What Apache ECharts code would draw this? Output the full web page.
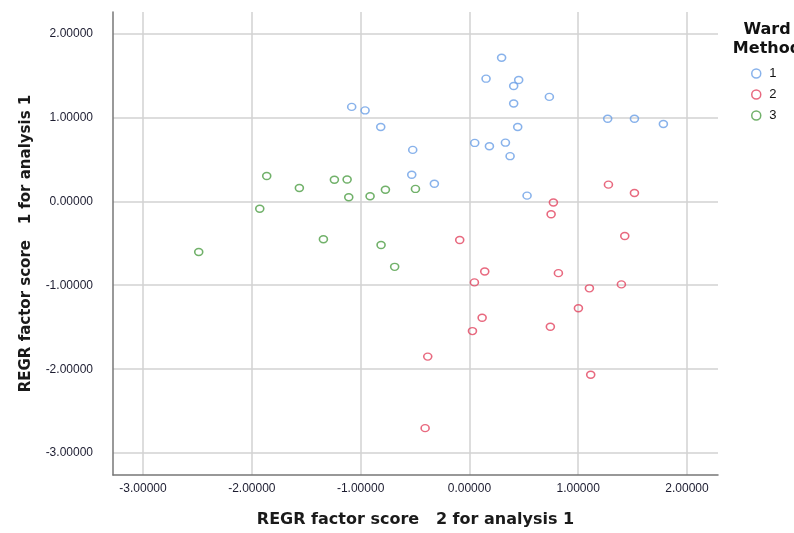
<!DOCTYPE html>
<html>
<head>
<meta charset="utf-8">
<script src="https://cdn.jsdelivr.net/npm/echarts@6/dist/echarts.min.js"></script>
<style>
html,body{margin:0;padding:0;background:#fff;}
#c{width:794px;height:533px;}
</style>
</head>
<body>
<div id="c"></div>
<script>
// Cluster membership (Ward Method) — [factor score 2, factor score 1]
var cluster1 = [
  [0.296, 1.709], [0.153, 1.460], [0.453, 1.444], [0.407, 1.373], [0.735, 1.243],
  [0.407, 1.164], [-1.082, 1.124], [-0.959, 1.082], [-0.815, 0.884], [0.444, 0.884],
  [1.271, 0.982], [1.517, 0.982], [1.783, 0.920], [0.049, 0.695], [0.184, 0.656],
  [0.331, 0.698], [0.374, 0.537], [-0.521, 0.612], [-0.530, 0.316], [-0.322, 0.209],
  [0.530, 0.067]
];
var cluster2 = [
  [1.278, 0.198], [1.517, 0.099], [0.772, -0.015], [0.751, -0.154], [1.428, -0.414],
  [-0.089, -0.462], [0.141, -0.836], [0.818, -0.856], [0.046, -0.966], [1.103, -1.037],
  [1.397, -0.990], [1.002, -1.274], [0.117, -1.388], [0.744, -1.495], [0.028, -1.546],
  [-0.383, -1.850], [1.115, -2.067], [-0.407, -2.702]
];
var cluster3 = [
  [-2.488, -0.604], [-1.927, -0.090], [-1.863, 0.300], [-1.563, 0.158], [-1.342, -0.453],
  [-1.241, 0.257], [-1.124, 0.260], [-1.109, 0.047], [-0.913, 0.059], [-0.812, -0.521],
  [-0.772, 0.138], [-0.687, -0.781], [-0.496, 0.147]
];
var clusterNames = ['1', '2', '3'];
var clusterColors = ['#6a9fe6', '#e2445f', '#4e9e45'];
var xTitle = 'REGR factor score   2 for analysis 1';
var yTitle = 'REGR factor score   1 for analysis 1';
var legendTitle = 'Ward\nMethod';

var chart = echarts.init(document.getElementById('c'), null, {renderer: 'canvas'});
var allData = [cluster1, cluster2, cluster3];

function axisCommon() {
  return {
    type: 'value',
    minInterval: 1,
    maxInterval: 1,
    nameLocation: 'middle',
    nameTextStyle: {fontFamily: 'DejaVu Sans', fontWeight: 'bold', fontSize: 15, color: '#1a1a1a'},
    axisLine: {show: true, onZero: false, lineStyle: {color: '#777', width: 1.5}},
    axisTick: {show: false},
    axisLabel: {
      showMinLabel: false, showMaxLabel: false,
      fontFamily: 'Liberation Sans', fontSize: 12, color: '#1c1c30',
      formatter: function (v) { return v.toFixed(5); }
    },
    splitLine: {show: true, showMinLine: false, showMaxLine: false, lineStyle: {color: '#d2d2d2', width: 1.5}}
  };
}

var xAxis = axisCommon();
xAxis.min = -3.276; xAxis.max = 2.285;
xAxis.name = xTitle; xAxis.nameGap = 37;
xAxis.nameTextStyle.fontSize = 16;
xAxis.axisLabel.margin = 8;

var yAxis = axisCommon();
yAxis.min = -3.26; yAxis.max = 2.254;
yAxis.name = yTitle; yAxis.nameGap = 79;
yAxis.axisLabel.margin = 20;

var series = allData.map(function (d, i) {
  return {
    name: clusterNames[i],
    type: 'scatter',
    data: d,
    symbol: 'circle',
    symbolSize: [8, 7],
    itemStyle: {color: 'rgba(255,255,255,0)', borderColor: clusterColors[i], borderWidth: 1.5},
    emphasis: {disabled: true}
  };
});

chart.setOption({
  animation: false,
  backgroundColor: '#fff',
  title: {
    text: legendTitle,
    left: 762, top: 15,
    textAlign: 'center',
    textStyle: {fontFamily: 'DejaVu Sans', fontWeight: 'bold', fontSize: 16, lineHeight: 19, color: '#111'}
  },
  legend: {
    orient: 'vertical',
    left: 746, top: 62,
    itemWidth: 10, itemHeight: 9, itemGap: 8,
    data: clusterNames.map(function (n, i) {
      return {name: n, icon: 'circle', itemStyle: {color: 'rgba(255,255,255,0)', borderColor: clusterColors[i], borderWidth: 1.5}};
    }),
    textStyle: {fontFamily: 'Liberation Sans', fontSize: 13, color: '#111', padding: [0, 0, 0, 3]},
    selectedMode: false
  },
  grid: {left: 113, right: 76, top: 12, bottom: 55, containLabel: false},
  xAxis: xAxis,
  yAxis: yAxis,
  series: series
});
</script>
</body>
</html>
